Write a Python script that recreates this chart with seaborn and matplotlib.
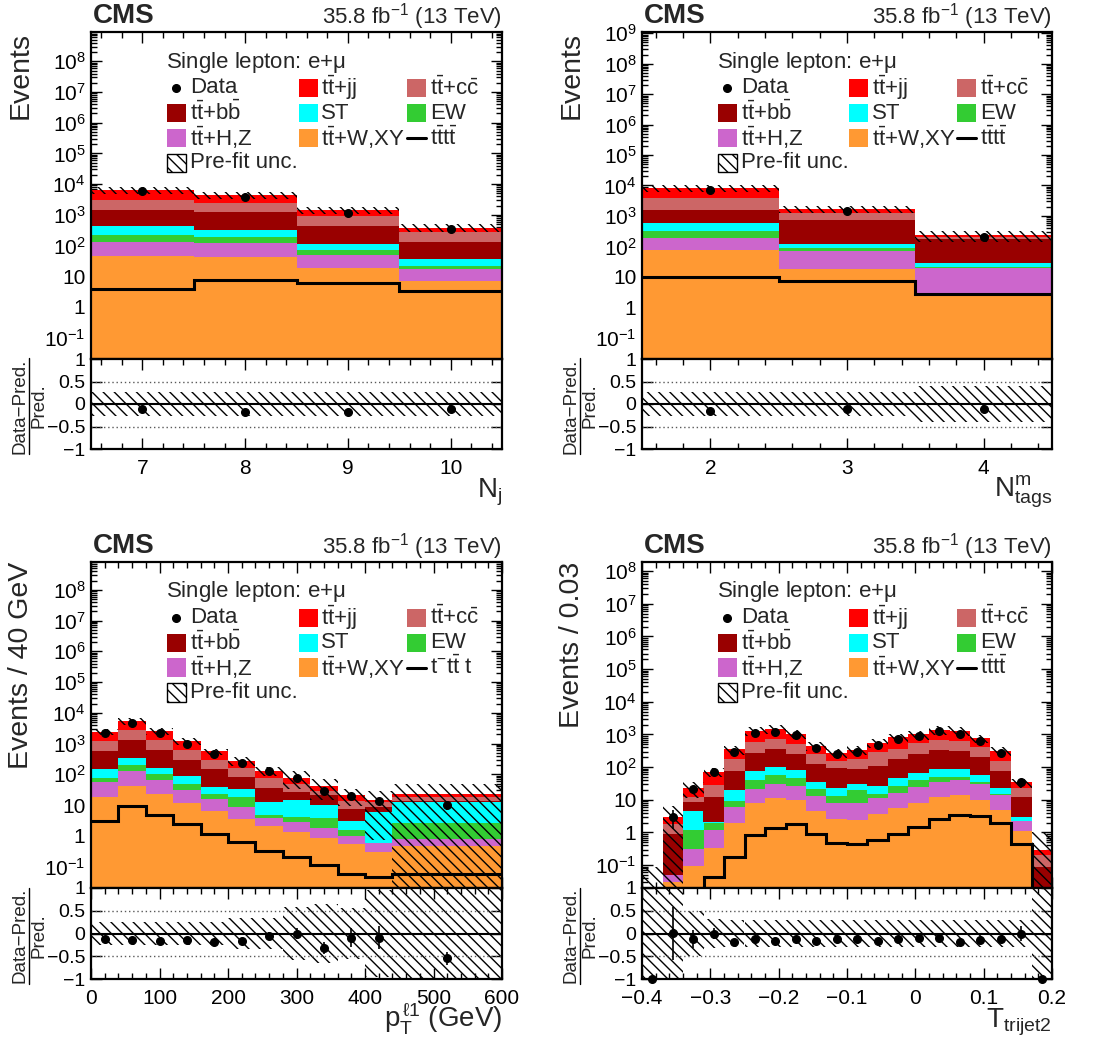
import numpy as np
import pandas as pd
import matplotlib
matplotlib.use("Agg")
import matplotlib.pyplot as plt
import seaborn as sns
from matplotlib.ticker import (MultipleLocator, LogLocator, NullFormatter,
                               FuncFormatter, FixedLocator)
from matplotlib.patches import Rectangle
from matplotlib.lines import Line2D

# ---------------- data ----------------
procs = ["tt+jj", "tt+cc", "tt+bb", "ST", "EW", "tt+H,Z", "tt+W,XY"]
proc_colors = ["#ff0000", "#cc6666", "#990000", "#00ffff", "#33cc33", "#cc66cc", "#ff9933"]

# Panel 1: N_j
edges_nj = [6.5, 7.5, 8.5, 9.5, 10.5]
jj_nj = [3400, 2100, 490, 115]
cc_nj = [1650, 1200, 475, 136]
bb_nj = [1035, 875, 305, 93]
st_nj = [192, 143, 38, 14.6]
ew_nj = [93, 62, 22, 4]
hz_nj = [86, 77, 31.7, 10.3]
w_nj = [44, 43, 18.3, 6.7]
tttt_nj = [3.8, 7.6, 5.9, 3.4]
data_nj = [5800, 3700, 1130, 335]
unc_nj = [0.26, 0.26, 0.26, 0.27]

# Panel 2: N_tags^m
edges_nt = [1.5, 2.5, 3.5, 4.5]
jj_nt = [4300, 400, 28]
cc_nt = [2300, 500, 33]
bb_nt = [995, 640, 147]
st_nt = [275, 34, 7.5]
ew_nt = [142, 14, 1.1]
hz_nt = [112, 53.4, 16.6]
w_nt = [76, 18.6, 2.8]
tttt_nt = [10, 7.4, 2.7]
data_nt = [7000, 1480, 210]
unc_nt = [0.27, 0.27, 0.40]

# Panel 3: leading lepton pT
edges_pt = [0, 40, 80, 120, 160, 200, 240, 280, 320, 360, 400, 440, 600]
jj_pt = [1220, 2740, 1260, 550, 257, 117, 54, 31, 12.5, 7.8, 2.3, 4.5]
cc_pt = [680, 1450, 690, 327, 147, 78, 41, 19.5, 8, 6.3, 3.6, 4.8]
bb_pt = [404, 980, 462, 204, 108, 47, 24, 12.8, 11, 4.3, 2.8, 0.2]
st_pt = [68, 127, 58, 40, 15.4, 15.2, 8.2, 10.5, 6.1, 1.45, 5.4, 10.3]
ew_pt = [24, 74, 37, 18, 7.2, 9.3, 1.1, 1.5, 2.14, 0.56, 0.0, 1.79]
hz_pt = [36.1, 86, 40.4, 19.6, 8.9, 5.0, 1.6, 1.4, 0.93, 0.44, 0.3, 0.31]
w_pt = [17.9, 43, 22.6, 11.4, 6.5, 3.5, 2.1, 1.3, 0.83, 0.55, 0.3, 0.47]
tttt_pt = [3.1, 9.3, 4.9, 2.4, 1.15, 0.65, 0.32, 0.21, 0.11, 0.056, 0.047, 0.056]
data_pt = [2150, 4700, 2160, 1000, 450, 230, 124, 78, 28.6, 19.5, 13.4, 10.1]
unc_pt = [0.25, 0.25, 0.25, 0.25, 0.25, 0.33, 0.33, 0.58, 0.65, 0.57, 0.95, 1.1]

# Panel 4: T_trijet2
edges_tt = [-0.40, -0.37, -0.34, -0.31, -0.28, -0.25, -0.22, -0.19, -0.16, -0.13, -0.10,
            -0.07, -0.04, -0.01, 0.02, 0.05, 0.08, 0.11, 0.14, 0.17, 0.20]
jj_tt = [0.002, 1.2, 11.2, 44, 171, 730, 730, 545, 200, 124, 158, 261, 438, 444, 690, 660, 340, 160, 11.7, 0.09]
cc_tt = [0.003, 0.87, 4.0, 16.2, 98, 295, 373, 275, 129, 65, 87, 187, 196, 311, 338, 324, 212, 79, 10.5, 0.111]
bb_tt = [0.01, 0.88, 3.8, 9.75, 58, 199, 244, 169, 87, 68, 55, 81, 129, 177, 247, 231, 151, 54.7, 8.8, 0.067]
st_tt = [0.0, 0.0, 3.33, 0.05, 10.8, 36, 46, 36, 13, 10, 10, 12, 21, 28, 35, 35, 21.5, 7.7, 0.8, 0.004]
ew_tt = [0.0, 0.0, 0.87, 0.83, 3.3, 18.2, 27, 19, 8, 5.5, 11.8, 4, 10, 15, 14.5, 10, 6, 0.6, 0.0, 0.0]
hz_tt = [0.0, 0.018, 0.21, 0.83, 4.0, 14, 19, 16.2, 8.5, 5.2, 5.8, 7.4, 10.3, 16.9, 23.2, 26.3, 19.3, 9.0, 1.1, 0.013]
w_tt = [0.0, 0.031, 0.093, 0.34, 1.9, 7.8, 11, 9.8, 4.5, 2.6, 2.4, 3.6, 5.7, 8.1, 12.3, 13.7, 10.2, 5.0, 1.1, 0.005]
tttt_tt = [0.005, 0.008, 0.012, 0.042, 0.18, 0.83, 1.38, 1.76, 0.93, 0.48, 0.46, 0.58, 0.93, 1.48, 2.5, 3.4, 3.2, 1.9, 0.46, 0.01]
data_tt = [0, 3.0, 20.7, 72, 281, 1144, 1218, 942, 378, 249, 287, 467, 705, 900, 1238, 1066, 646, 275, 34, 0]
unc_tt = [5.0, 1.1, 0.5, 0.32, 0.3, 0.3, 0.3, 0.3, 0.3, 0.3, 0.3, 0.3, 0.3, 0.3, 0.3, 0.3, 0.3, 0.3, 0.3, 2.5]

# ---------------- style ----------------
sns.set_style("ticks")
plt.rcParams["font.family"] = ["Liberation Sans", "DejaVu Sans"]
plt.rcParams.update({
    "mathtext.fontset": "custom",
    "mathtext.rm": "Liberation Sans",
    "mathtext.it": "Liberation Sans:italic",
    "mathtext.bf": "Liberation Sans:bold",
    "mathtext.sf": "Liberation Sans",
    "mathtext.default": "regular",
    "hatch.linewidth": 1.0,
    "hatch.color": "black",
    "axes.linewidth": 1.6,
    "axes.edgecolor": "black",
})

W, H = 1095, 1041
fig = plt.figure(figsize=(W / 100, H / 100), dpi=100)
HATCH = "\\\\\\"


def rect(x0, y0, x1, y1):
    return [x0 / W, 1 - y1 / H, (x1 - x0) / W, (y1 - y0) / H]


def fx(x):
    return x / W


def fy(y):
    return 1 - y / H


def logfmt(v, pos):
    e = int(round(np.log10(v)))
    if e == 0:
        return "1"
    if e == 1:
        return "10"
    return r"$10^{%d}$" % e


def linfmt(v, pos):
    s = "%g" % round(v, 6)
    if s == "-0":
        s = "0"
    return s.replace("-", "\u2212")


def style_ticks(a):
    a.tick_params(which="both", direction="in", top=True, right=True,
                  labelsize=15, width=1.0, colors="black")
    a.tick_params(which="major", length=8)
    a.tick_params(which="minor", length=4)
    for sp in a.spines.values():
        sp.set_linewidth(1.6)


def draw_legend(ax, tlabel):
    T = ax.transAxes
    ax.text(0.182, 0.908, r"Single lepton: e+$\mu$", transform=T, fontsize=16,
            va="center", ha="left")
    rows = [0.829, 0.752, 0.676, 0.600]
    bx = [0.185, 0.506, 0.769]
    tx = [0.241, 0.560, 0.825]
    bw, bh = 0.046, 0.056
    labels = {
        "tt+jj": r"t$\bar{t}$+jj",
        "tt+cc": r"t$\bar{t}$+c$\bar{c}$",
        "tt+bb": r"t$\bar{t}$+b$\bar{b}$",
        "ST": "ST",
        "EW": "EW",
        "tt+H,Z": r"t$\bar{t}$+H,Z",
        "tt+W,XY": r"t$\bar{t}$+W,XY",
    }
    layout = [("data", 0, 0), ("tt+jj", 1, 0), ("tt+cc", 2, 0),
              ("tt+bb", 0, 1), ("ST", 1, 1), ("EW", 2, 1),
              ("tt+H,Z", 0, 2), ("tt+W,XY", 1, 2), ("tttt", 2, 2),
              ("unc", 0, 3)]
    cmap = dict(zip(procs, proc_colors))
    for key, c, r in layout:
        y = rows[r]
        if key == "data":
            ax.plot([bx[c] + bw / 2], [y], "o", color="k", ms=5.5, transform=T,
                    clip_on=False)
            lab = "Data"
        elif key == "tttt":
            ax.add_line(Line2D([bx[c], bx[c] + bw], [y, y], transform=T,
                               color="k", lw=2.2))
            lab = tlabel
        elif key == "unc":
            ax.add_patch(Rectangle((bx[c], y - bh / 2), bw, bh, transform=T,
                                   facecolor="white", edgecolor="k", hatch=HATCH,
                                   lw=1.0))
            lab = "Pre-fit unc."
        else:
            ax.add_patch(Rectangle((bx[c], y - bh / 2), bw, bh, transform=T,
                                   facecolor=cmap[key], edgecolor="none"))
            lab = labels[key]
        ax.text(tx[c], y, lab, transform=T, fontsize=16, va="center", ha="left")


def draw_panel(main_px, ratio_px, edges, comps, tttt, data, unc, ylim,
               ylabel, xlabel, xmaj, xmin, tlabel):
    edges = np.asarray(edges, float)
    centers = 0.5 * (edges[1:] + edges[:-1])
    widths = np.diff(edges)
    comps = [np.asarray(c, float) for c in comps]
    total = np.sum(comps, axis=0)
    data = np.asarray(data, float)
    unc = np.asarray(unc, float)
    tttt = np.asarray(tttt, float)

    ax = fig.add_axes(rect(*main_px))
    rax = fig.add_axes(rect(*ratio_px))

    rows = []
    for name, vals in zip(procs, comps):
        for c, v in zip(centers, vals):
            rows.append((c, v, name))
    df = pd.DataFrame(rows, columns=["x", "w", "proc"])
    sns.histplot(df, x="x", weights="w", hue="proc", hue_order=procs,
                 palette=dict(zip(procs, proc_colors)), multiple="stack",
                 bins=[float(e) for e in edges], element="bars", fill=True,
                 alpha=1, linewidth=0, legend=False, ax=ax)
    ax.set_yscale("log")

    lo = np.maximum(total * (1 - unc), 1e-4)
    hi = total * (1 + unc)
    ax.bar(edges[:-1], hi - lo, width=widths, bottom=lo, align="edge",
           facecolor="none", edgecolor="k", linewidth=0, hatch=HATCH, zorder=3)
    ax.stairs(tttt, edges, baseline=None, color="k", lw=2.2, zorder=4)
    m = data > 0
    ax.errorbar(centers[m], data[m], yerr=np.sqrt(data[m]), fmt="o", color="k",
                ms=5.5, elinewidth=1.2, capsize=0, zorder=5)

    ax.set_xlim(edges[0], edges[-1])
    ax.set_ylim(*ylim)
    ax.set_xlabel("")
    ax.set_ylabel("")
    ax.yaxis.set_major_locator(LogLocator(base=10, numticks=30))
    ax.yaxis.set_minor_locator(LogLocator(base=10, subs=np.arange(2, 10) * 1.0,
                                          numticks=400))
    ax.yaxis.set_major_formatter(FuncFormatter(logfmt))
    ax.yaxis.set_minor_formatter(NullFormatter())
    ax.xaxis.set_major_locator(MultipleLocator(xmaj))
    ax.xaxis.set_minor_locator(MultipleLocator(xmin))
    style_ticks(ax)
    ax.tick_params(labelbottom=False)
    ax.tick_params(axis="y", pad=4)

    # ratio panel
    ratio = data / total - 1
    rerr = np.sqrt(data) / total
    rax.bar(edges[:-1], 2 * unc, width=widths, bottom=-unc, align="edge",
            facecolor="none", edgecolor="k", linewidth=0, hatch=HATCH)
    rax.axhline(0, color="k", lw=1.5)
    for yv in (0.5, -0.5):
        rax.axhline(yv, color="0.35", ls=(0, (1, 2)), lw=1.0)
    rax.errorbar(centers, ratio, yerr=rerr, fmt="o", color="k", ms=5.5,
                 elinewidth=1.2, capsize=0, zorder=5, clip_on=False)
    rax.set_xlim(edges[0], edges[-1])
    rax.set_ylim(-1, 1)
    rax.yaxis.set_major_locator(FixedLocator([-1, -0.5, 0, 0.5, 1]))
    rax.yaxis.set_major_formatter(FuncFormatter(linfmt))
    rax.xaxis.set_major_locator(MultipleLocator(xmaj))
    rax.xaxis.set_minor_locator(MultipleLocator(xmin))
    rax.xaxis.set_major_formatter(FuncFormatter(linfmt))
    style_ticks(rax)
    rax.tick_params(axis="x", pad=7)
    rax.tick_params(axis="y", pad=4, labelsize=14)

    draw_legend(ax, tlabel)

    x0, y0, x1, y1 = main_px
    rx0, ry0, rx1, ry1 = ratio_px
    fig.text(fx(x0 + 2), fy(y0 - 9), "CMS", fontsize=20, fontweight="bold",
             ha="left", va="baseline")
    fig.text(fx(x1), fy(y0 - 9), r"35.8 fb$^{-1}$ (13 TeV)", fontsize=16,
             ha="right", va="baseline")
    fig.text(fx(x0 - 70), fy(y0), ylabel, fontsize=20.5, rotation=90,
             ha="center", va="top")
    # ratio title: (Data - Pred.) / Pred. drawn as a stacked fraction
    yc = 0.5 * (ry0 + ry1) + 2
    fig.text(fx(rx0 - 71), fy(yc), "Data\u2212Pred.", fontsize=13.5,
             rotation=90, ha="center", va="center")
    fig.text(fx(rx0 - 52), fy(yc), "Pred.", fontsize=13.5, rotation=90,
             ha="center", va="center")
    fig.add_artist(Line2D([fx(rx0 - 62), fx(rx0 - 62)], [fy(yc - 48), fy(yc + 48)],
                          transform=fig.transFigure, color="k", lw=1.0))
    fig.text(fx(rx1), fy(ry1 + 48), xlabel, fontsize=20, ha="right",
             va="baseline")


draw_panel((91, 32, 502, 359), (91, 359, 502, 449), edges_nj,
           [jj_nj, cc_nj, bb_nj, st_nj, ew_nj, hz_nj, w_nj], tttt_nj, data_nj,
           unc_nj, (0.02, 9e8), "Events", r"N$_{j}$", 1, 0.2,
           r"t$\bar{t}$t$\bar{t}$")
draw_panel((642, 32, 1052, 359), (642, 359, 1052, 449), edges_nt,
           [jj_nt, cc_nt, bb_nt, st_nt, ew_nt, hz_nt, w_nt], tttt_nt, data_nt,
           unc_nt, (0.02, 1.1e9), "Events", r"N$^{m}_{tags}$", 1, 0.2,
           r"t$\bar{t}$t$\bar{t}$")
draw_panel((91, 562, 502, 888), (91, 888, 502, 979), edges_pt,
           [jj_pt, cc_pt, bb_pt, st_pt, ew_pt, hz_pt, w_pt], tttt_pt, data_pt,
           unc_pt, (0.02, 8e8), "Events / 40 GeV", r"p$_{T}^{\,\ell1}$ (GeV)",
           100, 20, r"t$^{-}$t$\bar{t}$ t")
draw_panel((642, 562, 1052, 888), (642, 888, 1052, 979), edges_tt,
           [jj_tt, cc_tt, bb_tt, st_tt, ew_tt, hz_tt, w_tt], tttt_tt, data_tt,
           unc_tt, (0.02, 1.9e8), "Events / 0.03", r"T$_{trijet2}$", 0.1, 0.02,
           r"t$\bar{t}$t$\bar{t}$")

fig.savefig("out.png", dpi=100)
